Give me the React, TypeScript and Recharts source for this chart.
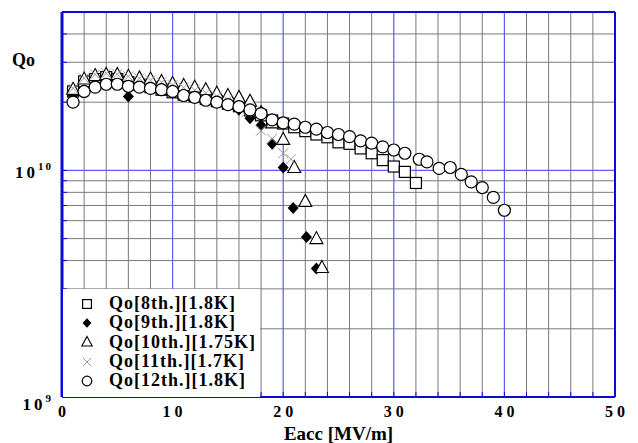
import React from "react";
import { ScatterChart, Scatter, XAxis, YAxis, ReferenceLine, Legend } from "recharts";

const FONT = '"Liberation Serif", "Times New Roman", serif';
const BLUE = "#0a0ad8";
const BLUE_GRID = "#5c5cf0";
const GRAY = "#7a7a7a";

// Eacc [MV/m] / Qo [x 1e10]
const eacc8 = [1, 2, 3, 4, 5, 6, 7, 8, 9, 10, 11, 12, 13, 14, 15, 16, 17, 18, 19, 20, 21, 22, 23, 24, 25, 26, 27, 28, 29, 30, 31, 32];
const qo8 = [2.23, 2.47, 2.53, 2.58, 2.53, 2.45, 2.39, 2.33, 2.27, 2.21, 2.16, 2.12, 2.07, 2.02, 1.97, 1.92, 1.84, 1.75, 1.66, 1.61, 1.55, 1.49, 1.44, 1.4, 1.33, 1.31, 1.25, 1.19, 1.11, 1.04, 0.985, 0.88];

const eacc9 = [1, 2, 3, 4, 5, 6, 7, 8, 9, 10, 11, 12, 13, 14, 15, 16, 17, 18, 19, 20, 20.9, 22.1, 23];
const qo9 = [2.15, 2.25, 2.4, 2.45, 2.42, 2.12, 2.32, 2.3, 2.26, 2.2, 2.15, 2.1, 2.05, 2.0, 1.94, 1.85, 1.7, 1.58, 1.31, 1.03, 0.682, 0.508, 0.369];

const eacc10 = [1, 2, 3, 4, 5, 6, 7, 8, 9, 10, 11, 12, 13, 14, 15, 16, 17, 18, 19, 20, 21, 22, 23, 23.5];
const qo10 = [2.28, 2.53, 2.62, 2.65, 2.65, 2.6, 2.56, 2.53, 2.47, 2.42, 2.37, 2.33, 2.27, 2.19, 2.14, 2.1, 2.02, 1.8, 1.62, 1.37, 1.03, 0.73, 0.5, 0.373];

const eacc11 = [1, 2, 3, 4, 5, 6, 7, 8, 9, 10, 11, 12, 13, 14, 15, 16, 16.7, 18, 19, 20, 20.7];
const qo11 = [2.3, 2.55, 2.65, 2.68, 2.66, 2.6, 2.55, 2.5, 2.45, 2.38, 2.32, 2.26, 2.2, 2.12, 2.05, 1.95, 1.81, 1.5, 1.38, 1.19, 1.12];

const eacc12 = [1, 2, 3, 4, 5, 6, 7, 8, 9, 10, 11, 12, 13, 14, 15, 16, 17, 18, 19, 20, 21, 22, 23, 24, 25, 26, 27, 28, 29, 30, 31, 32.3, 33, 34.1, 35.1, 36.1, 37, 38, 39, 40];
const qo12 = [2.0, 2.23, 2.33, 2.4, 2.4, 2.35, 2.33, 2.3, 2.27, 2.23, 2.14, 2.1, 2.04, 2.0, 1.95, 1.91, 1.85, 1.78, 1.67, 1.62, 1.6, 1.55, 1.52, 1.47, 1.44, 1.41, 1.35, 1.32, 1.27, 1.23, 1.19, 1.12, 1.09, 1.02, 1.03, 0.96, 0.89, 0.84, 0.76, 0.667];

const seriesNames = ["Qo[8th.][1.8K]", "Qo[9th.][1.8K]", "Qo[10th.][1.75K]", "Qo[11th.][1.7K]", "Qo[12th.][1.8K]"];

const xTicks = [0, 2, 4, 6, 8, 10, 12, 14, 16, 18, 20, 22, 24, 26, 28, 30, 32, 34, 36, 38, 40, 42, 44, 46, 48, 50];
const xMajor = [10, 20, 30, 40];
const yTicks = [1e9, 2e9, 3e9, 4e9, 5e9, 6e9, 7e9, 8e9, 9e9, 1e10, 2e10, 3e10, 4e10, 5e10];
const yMajor = [1e10];

const pts = (xs: number[], ys: number[]) => xs.map((x, i) => ({ x, y: ys[i] * 1e10 }));

function Marker({ type, cx, cy, s = 1 }: { type: string; cx: number; cy: number; s?: number }) {
  if (type === "square")
    return <rect x={cx - 5.5 * s} y={cy - 5.5 * s} width={11 * s} height={11 * s} fill="#fff" stroke="#000" strokeWidth={1.2} />;
  if (type === "diamond")
    return <polygon points={`${cx},${cy - 6 * s} ${cx + 5.5 * s},${cy} ${cx},${cy + 6 * s} ${cx - 5.5 * s},${cy}`} fill="#000" />;
  if (type === "triangle")
    return <polygon points={`${cx},${cy - 7 * s} ${cx + 6.5 * s},${cy + 5 * s} ${cx - 6.5 * s},${cy + 5 * s}`} fill="#fff" stroke="#000" strokeWidth={1.1} />;
  if (type === "cross")
    return (
      <g stroke="#9a9a9a" strokeWidth={1}>
        <line x1={cx - 5 * s} y1={cy - 5 * s} x2={cx + 5 * s} y2={cy + 5 * s} />
        <line x1={cx - 5 * s} y1={cy + 5 * s} x2={cx + 5 * s} y2={cy - 5 * s} />
      </g>
    );
  return <circle cx={cx} cy={cy} r={6 * s} fill="#fff" stroke="#000" strokeWidth={1.2} />;
}

const shapeOf = (type: string) => (p: any) => <Marker type={type} cx={p.cx} cy={p.cy} />;

function XTick({ x, y, payload }: any) {
  const v = payload.value;
  if (v % 10 !== 0) return null;
  return (
    <text x={x + 2} y={y} dy={9} textAnchor="middle" fontFamily={FONT} fontWeight="bold" fontSize={16} letterSpacing={4} fill="#000">
      {String(v)}
    </text>
  );
}

function YTick({ x, y, payload }: any) {
  const v = payload.value;
  if (v !== 1e9 && v !== 1e10) return null;
  const exp = v === 1e9 ? "9" : "10";
  return (
    <text x={x} y={y + (v === 1e9 ? 13 : 8)} textAnchor="end" fontFamily={FONT} fontWeight="bold" fill="#000">
      <tspan fontSize={17} letterSpacing={3}>10</tspan>
      <tspan fontSize={11} dy={-8} letterSpacing={2}>{exp}</tspan>
    </text>
  );
}

function LegendBox({ payload }: any) {
  const items = [...(payload ?? [])].sort((a: any, b: any) => seriesNames.indexOf(a.value) - seriesNames.indexOf(b.value));
  return (
    <div style={{ background: "#fff", width: 197, height: 108, paddingTop: 5, boxSizing: "border-box" }}>
      {items.map((e: any) => (
        <div key={e.value} style={{ display: "flex", alignItems: "center", height: 19.3, fontFamily: FONT, fontWeight: "bold", fontSize: 18, letterSpacing: 1, color: "#000" }}>
          <svg width={16} height={16} style={{ marginLeft: 16, overflow: "visible" }}>
            <Marker type={e.type} cx={8} cy={8} s={0.8} />
          </svg>
          <span style={{ marginLeft: 14, whiteSpace: "nowrap" }}>{e.value}</span>
        </div>
      ))}
    </div>
  );
}

export default function App() {
  const axisLine = { stroke: BLUE, strokeWidth: 2 };
  return (
    <div style={{ position: "absolute", left: 0, top: 0, background: "#fff" }}>
      <ScatterChart width={638} height={443} margin={{ top: 0, right: 0, bottom: 0, left: 0 }}>
        {xTicks.filter((v) => v > 0 && v < 50 && !xMajor.includes(v)).map((v) => (
          <ReferenceLine key={`vx${v}`} x={v} stroke={GRAY} strokeWidth={1} />
        ))}
        {yTicks.filter((v) => v > 1e9 && v < 5e10 && !yMajor.includes(v)).map((v) => (
          <ReferenceLine key={`hy${v}`} y={v} stroke={GRAY} strokeWidth={1} />
        ))}
        {xMajor.map((v) => (
          <ReferenceLine key={`VX${v}`} x={v} stroke={BLUE_GRID} strokeWidth={1.2} />
        ))}
        {yMajor.map((v) => (
          <ReferenceLine key={`HY${v}`} y={v} stroke={BLUE_GRID} strokeWidth={1.2} />
        ))}
        <XAxis
          type="number"
          dataKey="x"
          domain={[0, 50]}
          ticks={xTicks}
          interval={0}
          allowDataOverflow
          height={46}
          tickSize={-5}
          tickMargin={16}
          axisLine={axisLine}
          tickLine={{ stroke: BLUE }}
          tick={<XTick />}
          label={{ value: "Eacc [MV/m]", position: "insideBottom", offset: 3, style: { fontFamily: FONT, fontWeight: "bold", fontSize: 19, fill: "#000" } }}
        />
        <XAxis
          xAxisId="top"
          orientation="top"
          type="number"
          domain={[0, 50]}
          ticks={xTicks}
          interval={0}
          allowDataOverflow
          height={12}
          tickSize={-5}
          axisLine={axisLine}
          tickLine={{ stroke: BLUE }}
          tick={false}
        />
        <YAxis
          type="number"
          dataKey="y"
          scale="log"
          domain={[1e9, 5e10]}
          ticks={yTicks}
          interval={0}
          allowDataOverflow
          width={62}
          tickSize={-5}
          tickMargin={14}
          axisLine={{ stroke: BLUE, strokeWidth: 3 }}
          tickLine={{ stroke: BLUE }}
          tick={<YTick />}
          label={{
            content: (p: any) => (
              <text x={p.viewBox.x + 12} y={p.viewBox.y + 54} fontFamily={FONT} fontWeight="bold" fontSize={18} fill="#000">
                Qo
              </text>
            ),
          }}
        />
        <YAxis
          yAxisId="right"
          orientation="right"
          type="number"
          scale="log"
          domain={[1e9, 5e10]}
          ticks={yTicks}
          interval={0}
          allowDataOverflow
          width={23}
          tickSize={-5}
          axisLine={axisLine}
          tickLine={{ stroke: BLUE }}
          tick={false}
        />
        <Scatter name={seriesNames[0]} data={pts(eacc8, qo8)} legendType="square" shape={shapeOf("square")} isAnimationActive={false} />
        <Scatter name={seriesNames[1]} data={pts(eacc9, qo9)} legendType="diamond" shape={shapeOf("diamond")} isAnimationActive={false} />
        <Scatter name={seriesNames[2]} data={pts(eacc10, qo10)} legendType="triangle" shape={shapeOf("triangle")} isAnimationActive={false} />
        <Scatter name={seriesNames[3]} data={pts(eacc11, qo11)} legendType="cross" shape={shapeOf("cross")} isAnimationActive={false} />
        <Scatter name={seriesNames[4]} data={pts(eacc12, qo12)} legendType="circle" shape={shapeOf("circle")} isAnimationActive={false} />
        <Legend
          layout="vertical"
          align="center"
          verticalAlign="middle"
          content={<LegendBox />}
          wrapperStyle={{ left: 63, top: 289, width: 197, height: 108 }}
        />
      </ScatterChart>
    </div>
  );
}
